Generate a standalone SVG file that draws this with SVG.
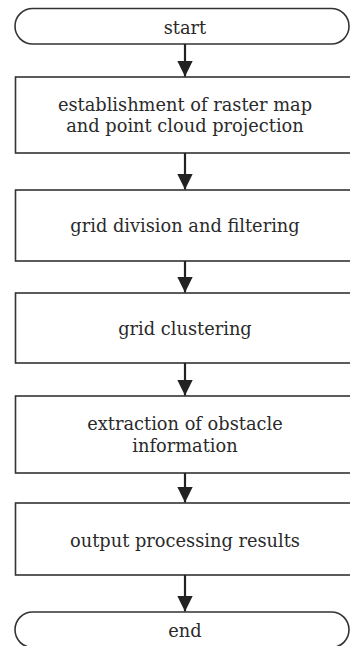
<svg xmlns="http://www.w3.org/2000/svg" width="350" height="646" viewBox="0 0 350 646">
<style>
.b{fill:#fff;stroke:#333;stroke-width:1.6}
.t{font-family:"DejaVu Serif","Liberation Serif",serif;font-size:17.8px;fill:#2a2a2a;text-anchor:middle}
.c{stroke:#222;stroke-width:2.2;fill:none}
</style>
<defs>
<marker id="a" viewBox="0 0 10 10" refX="10" refY="5" markerWidth="7" markerHeight="7" markerUnits="strokeWidth" orient="auto"><path d="M0,0 L10,5 L0,10 z" fill="#222"/></marker>
</defs>
<rect width="350" height="646" fill="#fff"/>
<g id="start"><rect class="b" x="15" y="8.5" width="334" height="35.5" rx="17.7"/><text class="t" x="185" y="34">start</text></g>
<g id="n1"><rect class="b" x="15.5" y="77" width="345" height="76"/><text class="t" x="185" y="110.5">establishment of raster map</text><text class="t" x="185" y="132">and point cloud projection</text></g>
<g id="n2"><rect class="b" x="15.5" y="190" width="345" height="71"/><text class="t" x="185" y="231.5">grid division and filtering</text></g>
<g id="n3"><rect class="b" x="15.5" y="293" width="345" height="70"/><text class="t" x="185" y="335">grid clustering</text></g>
<g id="n4"><rect class="b" x="15.5" y="396" width="345" height="77"/><text class="t" x="185" y="430">extraction of obstacle</text><text class="t" x="185" y="452">information</text></g>
<g id="n5"><rect class="b" x="15.5" y="503" width="345" height="72"/><text class="t" x="185" y="547">output processing results</text></g>
<g id="end"><rect class="b" x="15" y="612" width="334" height="35.5" rx="17.7"/><text class="t" x="185" y="637">end</text></g>
<g id="connectors">
<line class="c" x1="185" y1="44" x2="185" y2="76.5" marker-end="url(#a)"/>
<line class="c" x1="185" y1="153" x2="185" y2="189.5" marker-end="url(#a)"/>
<line class="c" x1="185" y1="261" x2="185" y2="292.5" marker-end="url(#a)"/>
<line class="c" x1="185" y1="363" x2="185" y2="395.5" marker-end="url(#a)"/>
<line class="c" x1="185" y1="473" x2="185" y2="502.5" marker-end="url(#a)"/>
<line class="c" x1="185" y1="575" x2="185" y2="611.5" marker-end="url(#a)"/>
</g>
</svg>
